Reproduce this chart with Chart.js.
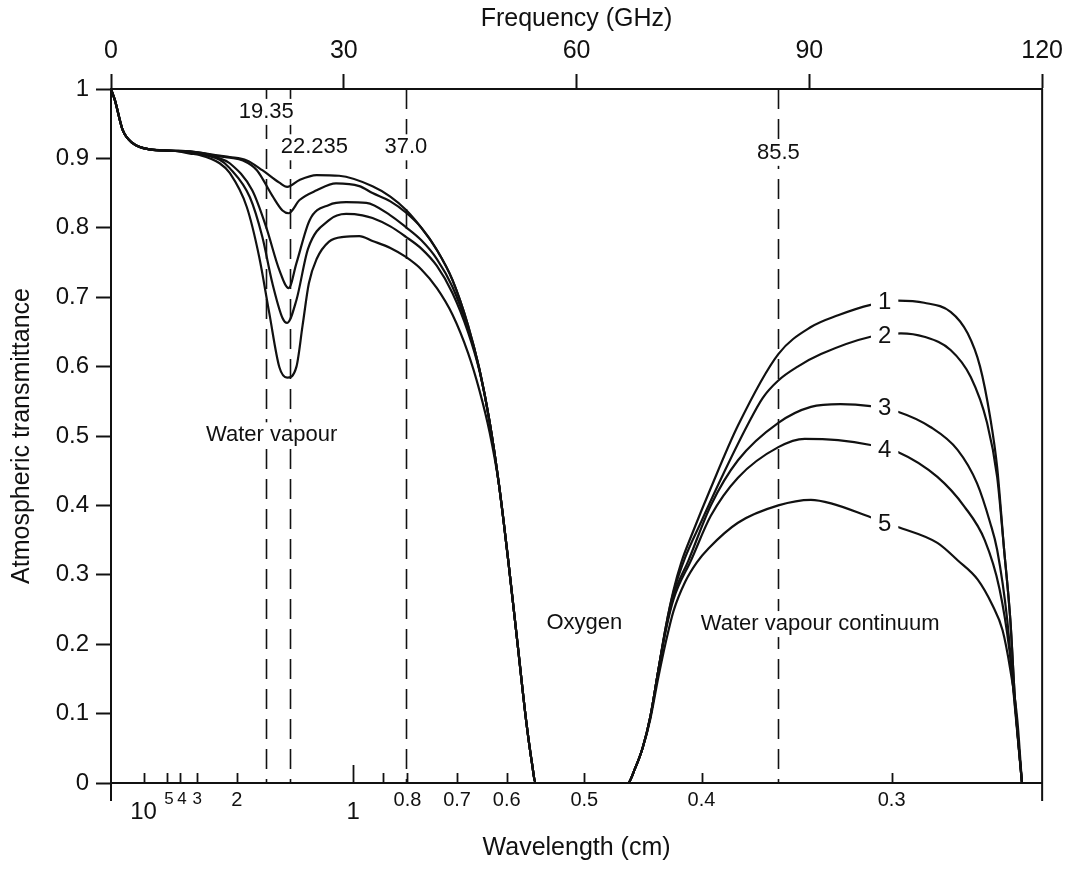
<!DOCTYPE html>
<html>
<head>
<meta charset="utf-8">
<script src="https://cdn.jsdelivr.net/npm/chart.js@4.4.1/dist/chart.umd.min.js"></script>
<style>
  html, body { margin: 0; padding: 0; background: #fff; }
</style>
</head>
<body>
<canvas id="chart" width="1071" height="871"></canvas>
<script>
// Transmittance curves: [frequency GHz, transmittance]
const curve1 = [
  [0, 1.0], [0.5, 0.984], [1.5, 0.941], [2.8, 0.922], [5, 0.913], [8, 0.911], [10.2, 0.91],
  [14, 0.904], [15.3, 0.902], [17.5, 0.897], [19.5, 0.883], [21.7, 0.865], [22.7, 0.859],
  [24.3, 0.869], [26.5, 0.876], [29.4, 0.875], [33.7, 0.86], [36, 0.845], [38, 0.826],
  [40, 0.8], [42, 0.768], [44, 0.725], [46, 0.66], [47.5, 0.595], [48.8, 0.52], [50, 0.43],
  [51.2, 0.32], [52.4, 0.2], [53.5, 0.09], [54.3, 0.025], [54.7, 0],
  [66.6, 0], [67.5, 0.02], [68.5, 0.05], [69.5, 0.095], [70.5, 0.16], [71.5, 0.225],
  [72.5, 0.278], [73.5, 0.318], [75, 0.362], [77.3, 0.425], [80.8, 0.515], [86, 0.618],
  [90.2, 0.657], [93.7, 0.674], [97.9, 0.689], [101.4, 0.695], [104.8, 0.692], [108.2, 0.679],
  [110.4, 0.648], [112, 0.6], [113.3, 0.527], [114.2, 0.455], [115.1, 0.336], [115.9, 0.235],
  [116.5, 0.12], [117.4, 0],
];
const curve2 = [
  [0, 1.0], [0.5, 0.984], [1.5, 0.941], [2.8, 0.922], [5, 0.913], [8, 0.911], [10.2, 0.91],
  [14, 0.903], [15.3, 0.901], [17, 0.897], [18.8, 0.883], [20.8, 0.846], [22.1, 0.825], [22.9, 0.821],
  [24.3, 0.84], [26.5, 0.854], [29, 0.864], [32, 0.86], [33.7, 0.85], [36, 0.838], [38, 0.822],
  [40, 0.8], [42, 0.768], [44, 0.725], [46, 0.66], [47.5, 0.595], [48.8, 0.52], [50, 0.43],
  [51.2, 0.32], [52.4, 0.2], [53.5, 0.09], [54.3, 0.025], [54.7, 0],
  [66.6, 0], [67.5, 0.02], [68.5, 0.05], [69.5, 0.095], [70.5, 0.16], [71.5, 0.225],
  [72.5, 0.275], [74, 0.325], [76, 0.375], [78.6, 0.438], [82, 0.515], [84, 0.555], [86, 0.58],
  [88.5, 0.6], [91.5, 0.618], [97.9, 0.643], [101.8, 0.648], [104.8, 0.643], [108.2, 0.624],
  [110.8, 0.585], [112.9, 0.519], [114.2, 0.441], [115.1, 0.336], [115.9, 0.235], [116.5, 0.12],
  [117.4, 0],
];
const curve3 = [
  [0, 1.0], [0.5, 0.984], [1.5, 0.941], [2.8, 0.922], [5, 0.913], [8, 0.911], [10.2, 0.909],
  [14, 0.9], [15.3, 0.893], [18.2, 0.854], [20, 0.801], [21.7, 0.739], [22.9, 0.713],
  [23.9, 0.749], [25.6, 0.811], [28.1, 0.833], [30.3, 0.837], [32.9, 0.836], [36, 0.818],
  [38, 0.801], [40, 0.782], [42, 0.755], [44, 0.715], [46, 0.655], [47.5, 0.595], [48.8, 0.52],
  [50, 0.43], [51.2, 0.32], [52.4, 0.2], [53.5, 0.09], [54.3, 0.025], [54.7, 0],
  [66.6, 0], [67.5, 0.02], [68.5, 0.05], [69.5, 0.095], [70.5, 0.16], [71.5, 0.222],
  [72.5, 0.27], [74.4, 0.32], [77.3, 0.4], [80.8, 0.465], [86, 0.519], [90.2, 0.542],
  [94, 0.546], [97.9, 0.543], [101.4, 0.535], [105.6, 0.513], [109.1, 0.48], [111.6, 0.432],
  [113.3, 0.375], [114.2, 0.336], [115.5, 0.235], [116.4, 0.12], [117.4, 0],
];
const curve4 = [
  [0, 1.0], [0.5, 0.984], [1.5, 0.941], [2.8, 0.922], [5, 0.913], [8, 0.911], [10.2, 0.908],
  [14, 0.898], [15.3, 0.886], [17.9, 0.844], [19.5, 0.787], [20.8, 0.72], [22.1, 0.67], [22.7, 0.663],
  [23.9, 0.696], [25.4, 0.77], [28.1, 0.811], [30.3, 0.82], [32.4, 0.818], [33.7, 0.814],
  [36, 0.802], [38, 0.787], [40, 0.77], [42, 0.745], [44, 0.706], [46, 0.65], [47.5, 0.593],
  [48.8, 0.52], [50, 0.43], [51.2, 0.32], [52.4, 0.2], [53.5, 0.09], [54.3, 0.025], [54.7, 0],
  [66.6, 0], [67.5, 0.02], [68.5, 0.05], [69.5, 0.095], [70.5, 0.16], [71.5, 0.22],
  [72.5, 0.265], [74.8, 0.322], [77.3, 0.385], [80.8, 0.44], [86, 0.484], [89.4, 0.496],
  [93.7, 0.494], [97.9, 0.487], [101.4, 0.477], [106.5, 0.441], [110, 0.398], [112.6, 0.35],
  [114.5, 0.28], [115.8, 0.19], [116.6, 0.1], [117.4, 0],
];
const curve5 = [
  [0, 1.0], [0.5, 0.984], [1.5, 0.941], [2.8, 0.922], [5, 0.913], [8, 0.911], [10.2, 0.907],
  [11.4, 0.905], [14, 0.893], [15.3, 0.879], [17.5, 0.83], [19.1, 0.758], [20.4, 0.677],
  [21.7, 0.599], [22.7, 0.584], [23.9, 0.6], [24.7, 0.66], [25.5, 0.72], [26.5, 0.755],
  [28.1, 0.78], [30, 0.787], [32, 0.788], [33.7, 0.781], [36, 0.771], [38, 0.758], [40, 0.74],
  [42, 0.713], [44, 0.675], [46, 0.62], [47.5, 0.565], [48.8, 0.505], [50, 0.43],
  [51.2, 0.32], [52.4, 0.2], [53.5, 0.09], [54.3, 0.025], [54.7, 0],
  [66.6, 0], [67.5, 0.02], [68.5, 0.05], [69.5, 0.092], [70.5, 0.15], [71.5, 0.203],
  [72.5, 0.248], [74, 0.29], [75.5, 0.318], [77, 0.338], [80.8, 0.375], [86, 0.4], [90.2, 0.408],
  [92.8, 0.403], [97.9, 0.383], [101.4, 0.369], [106.5, 0.346], [109.1, 0.321], [111.7, 0.293],
  [113.6, 0.256], [114.9, 0.22], [115.9, 0.163], [116.8, 0.091], [117.4, 0],
];

const curveNames = ['1', '2', '3', '4', '5'];

// dashed marker lines (positions as drawn in the figure, GHz)
const lineGHz = [20.0, 23.1, 38.0, 86.0];
const lineLabels = ['19.35', '22.235', '37.0', '85.5'];

// bottom wavelength axis (cm), tick positions on the frequency scale
const wavelengthLabels = ['10', '5', '4', '3', '2', '1', '', '0.8', '0.7', '0.6', '0.5', '0.4', '0.3'];
const wavelengthTickGHz = [4.2, 7.2, 8.9, 11.1, 16.2, 31.2, 35.1, 38.2, 44.6, 51.0, 61.0, 76.1, 100.6];

const FONT = '"Liberation Sans", Arial, Helvetica, sans-serif';
const INK = '#111';

// text placements in data units
const lineLabelPos = [[20.0, 0.967], [26.2, 0.916], [38.0, 0.916], [86.0, 0.908]];
const curveTagPos = [[99.7, 0.693], [99.7, 0.643], [99.7, 0.540], [99.7, 0.480], [99.7, 0.372]];
const notes = [
  { text: 'Water vapour', x: 20.7, y: 0.501 },
  { text: 'Oxygen', x: 61.0, y: 0.23 },
  { text: 'Water vapour continuum', x: 91.4, y: 0.229 },
];

function boxedText(ctx, text, cx, cy, size, padX, padY) {
  ctx.font = `${size}px ${FONT}`;
  const w = ctx.measureText(text).width;
  ctx.fillStyle = '#fff';
  ctx.fillRect(cx - w / 2 - padX, cy - size / 2 - padY, w + padX * 2, size + padY * 2);
  ctx.fillStyle = INK;
  ctx.textAlign = 'center';
  ctx.textBaseline = 'middle';
  ctx.fillText(text, cx, cy);
}

const overlay = {
  id: 'overlay',
  beforeDatasetsDraw(chart) {
    const { ctx, chartArea: a, scales: { x } } = chart;
    ctx.save();
    ctx.strokeStyle = INK;
    ctx.lineWidth = 1.6;
    ctx.setLineDash([20, 10]);
    lineGHz.forEach(f => {
      const px = Math.round(x.getPixelForValue(f)) + 0.5;
      ctx.beginPath();
      ctx.moveTo(px, a.top);
      ctx.lineTo(px, a.bottom);
      ctx.stroke();
    });
    ctx.restore();
  },
  afterDatasetsDraw(chart) {
    const { ctx, chartArea: a, scales: { x, y } } = chart;
    ctx.save();

    // right frame + bottom axis, with the short overhangs below
    ctx.strokeStyle = INK;
    ctx.lineWidth = 2;
    ctx.beginPath();
    ctx.moveTo(a.left, a.bottom); ctx.lineTo(a.right, a.bottom);
    ctx.moveTo(a.right, a.top); ctx.lineTo(a.right, a.bottom + 18);
    ctx.moveTo(a.left, a.bottom); ctx.lineTo(a.left, a.bottom + 18);
    ctx.stroke();

    // wavelength ticks point inward
    ctx.lineWidth = 1.8;
    wavelengthTickGHz.forEach((f, i) => {
      const px = Math.round(x.getPixelForValue(f)) + 0.5;
      const len = wavelengthLabels[i] === '1' ? 18 : 10;
      ctx.beginPath();
      ctx.moveTo(px, a.bottom);
      ctx.lineTo(px, a.bottom - len);
      ctx.stroke();
    });

    ctx.fillStyle = INK;
    ctx.textAlign = 'center';
    ctx.textBaseline = 'middle';
    wavelengthLabels.forEach((t, i) => {
      if (!t) return;
      const px = x.getPixelForValue(wavelengthTickGHz[i]);
      let size = 20, cy = a.bottom + 17;
      if (t === '10' || t === '1') { size = 24; cy = a.bottom + 29; }
      else if (t === '5' || t === '4' || t === '3') { size = 17; cy = a.bottom + 16; }
      ctx.font = `${size}px ${FONT}`;
      ctx.fillText(t, px + (t === '5' || t === '4' ? 2 : 0), cy);
    });
    ctx.font = `25px ${FONT}`;
    ctx.fillText('Wavelength (cm)', (a.left + a.right) / 2, a.bottom + 65);

    // labels that break the lines
    lineLabels.forEach((t, i) => {
      const [fx, fy] = lineLabelPos[i];
      boxedText(ctx, t, x.getPixelForValue(fx), y.getPixelForValue(fy), 22, 2, 2);
    });
    curveNames.forEach((t, i) => {
      const [fx, fy] = curveTagPos[i];
      boxedText(ctx, t, x.getPixelForValue(fx), y.getPixelForValue(fy), 24, 7, 0);
    });
    notes.forEach(n => {
      boxedText(ctx, n.text, x.getPixelForValue(n.x), y.getPixelForValue(n.y), 22, 3, 2);
    });

    ctx.restore();
  },
};

const toXY = pts => pts.map(([f, t]) => ({ x: f, y: t }));
const curves = [curve1, curve2, curve3, curve4, curve5];

new Chart(document.getElementById('chart'), {
  type: 'line',
  data: {
    datasets: curves.map((c, i) => ({
      label: curveNames[i],
      data: toXY(c),
      borderColor: INK,
      borderWidth: 2.2,
      pointRadius: 0,
      fill: false,
      cubicInterpolationMode: 'monotone',
    })),
  },
  options: {
    responsive: false,
    animation: false,
    layout: { padding: { left: 0, top: 0, right: 26, bottom: 88 } },
    plugins: { legend: { display: false }, tooltip: { enabled: false } },
    scales: {
      x: {
        type: 'linear',
        position: 'top',
        min: 0,
        max: 120,
        afterFit: s => { s.height = 89; },
        ticks: { stepSize: 30, color: INK, font: { family: FONT, size: 25 }, padding: 8, maxRotation: 0 },
        grid: { drawOnChartArea: false, tickLength: 15, tickWidth: 2, color: INK },
        border: { color: INK, width: 2 },
        title: {
          display: true, text: 'Frequency (GHz)', color: INK,
          font: { family: FONT, size: 25 }, padding: { top: 4, bottom: 0 },
        },
      },
      y: {
        min: 0,
        max: 1,
        afterFit: s => { s.width = 111; },
        ticks: {
          stepSize: 0.1, color: INK, font: { family: FONT, size: 24 }, padding: 7,
          callback: v => (v === 0 || v === 1) ? String(v) : v.toFixed(1),
        },
        grid: { drawOnChartArea: false, tickLength: 15, tickWidth: 2, color: INK },
        border: { color: INK, width: 2 },
        title: {
          display: true, text: 'Atmospheric transmittance', color: INK,
          font: { family: FONT, size: 25 }, padding: { top: 7, bottom: 0 },
        },
      },
    },
  },
  plugins: [overlay],
});
</script>
</body>
</html>
